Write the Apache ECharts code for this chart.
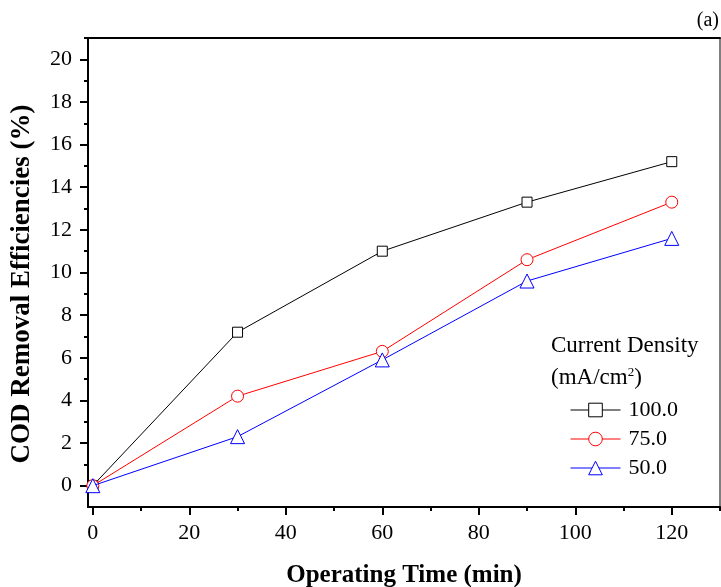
<!DOCTYPE html>
<html>
<head>
<meta charset="utf-8">
<script src="https://cdn.jsdelivr.net/npm/echarts@6/dist/echarts.min.js"></script>
<style>
  html, body { margin: 0; padding: 0; background: #fff; }
  #chart { width: 721px; height: 587px; }
</style>
</head>
<body>
<div id="chart"></div>
<script>
// operating time (min)
var times = [0, 30, 60, 90, 120];
// COD removal efficiency (%) per current density (mA/cm2)
var cod100 = [0, 7.2, 11.0, 13.3, 15.2];
var cod75 = [0, 4.2, 6.3, 10.6, 13.3];
var cod50 = [0, 2.3, 5.9, 9.6, 11.6];
var seriesNames = ['100.0', '75.0', '50.0'];
var xMajor = [0, 20, 40, 60, 80, 100, 120];
var xMinor = [10, 30, 50, 70, 90, 110, 130];
var yMajor = [0, 2, 4, 6, 8, 10, 12, 14, 16, 18, 20];
var yMinor = [1, 3, 5, 7, 9, 11, 13, 15, 17, 19, 21];

var FONT = 'Liberation Serif';

function pairs(ys) {
    return times.map(function (t, i) { return [t, ys[i]]; });
}

var dom = document.getElementById('chart');
var myChart = echarts.init(dom);

var option = {
    backgroundColor: '#fff',
    animation: false,
    textStyle: { fontFamily: FONT, color: '#000' },
    grid: {
        left: 88, top: 38, right: 1, bottom: 80,
        outerBoundsMode: 'none',
        show: true, borderColor: '#000', borderWidth: 1
    },
    title: {
        text: '(a)', right: 2, top: 11, padding: 0,
        textStyle: { fontFamily: FONT, fontSize: 20, fontWeight: 'normal', color: '#000' }
    },
    graphic: [
        {
            type: 'text', left: 551, top: 334,
            style: {
                text: 'Current Density',
                font: '23px "Liberation Serif"', fill: '#000'
            }
        },
        {
            type: 'text', left: 551, top: 366,
            style: {
                text: '(mA/cm{s|2})',
                font: '23px "Liberation Serif"', fill: '#000',
                rich: {
                    s: { fontSize: 13, fontFamily: FONT, verticalAlign: 'top', padding: [0, 0, 10, 0] }
                }
            }
        }
    ],
    legend: {
        orient: 'vertical',
        left: 570, top: 399, padding: 0,
        itemWidth: 50, itemHeight: 17, itemGap: 7,
        data: seriesNames,
        itemStyle: { borderWidth: 1 },
        lineStyle: { width: 1 },
        textStyle: { fontFamily: FONT, fontSize: 22, color: '#000', padding: [0, 0, 0, 3] }
    },
    xAxis: [
        {
            type: 'value', min: -1, max: 130, position: 'bottom',
            name: 'Operating Time (min)', nameLocation: 'middle', nameGap: 56,
            nameTextStyle: { fontFamily: FONT, fontSize: 25, fontWeight: 'bold', color: '#000' },
            axisLine: { show: true, onZero: false, lineStyle: { color: '#000', width: 2 } },
            axisTick: { show: true, length: 8, customValues: xMajor, lineStyle: { color: '#000', width: 2 } },
            axisLabel: { customValues: xMajor, margin: 15, fontFamily: FONT, fontSize: 22, color: '#000' },
            splitLine: { show: false }
        },
        {
            type: 'value', min: -1, max: 130, position: 'bottom',
            axisLine: { show: false, onZero: false },
            axisTick: { show: true, length: 4, customValues: xMinor, lineStyle: { color: '#000', width: 2 } },
            axisLabel: { show: false },
            splitLine: { show: false }
        },
        {
            type: 'value', min: -1, max: 130, position: 'top',
            axisLine: { show: true, onZero: false, lineStyle: { color: '#000', width: 2 } },
            axisTick: { show: false },
            axisLabel: { show: false },
            splitLine: { show: false }
        }
    ],
    yAxis: [
        {
            type: 'value', min: -1, max: 21, position: 'left',
            name: 'COD Removal Efficiencies (%)', nameLocation: 'middle', nameGap: 52,
            nameTextStyle: { fontFamily: FONT, fontSize: 27, fontWeight: 'bold', color: '#000', padding: [0, 23, 0, 0] },
            axisLine: { show: true, onZero: false, lineStyle: { color: '#000', width: 2 } },
            axisTick: { show: true, length: 8, customValues: yMajor, lineStyle: { color: '#000', width: 2 } },
            axisLabel: { customValues: yMajor, margin: 16, fontFamily: FONT, fontSize: 22, color: '#000' },
            splitLine: { show: false }
        },
        {
            type: 'value', min: -1, max: 21, position: 'left',
            axisLine: { show: false, onZero: false },
            axisTick: { show: true, length: 4, customValues: yMinor, lineStyle: { color: '#000', width: 2 } },
            axisLabel: { show: false },
            splitLine: { show: false }
        }
    ],
    series: [
        {
            name: seriesNames[0], type: 'line', data: pairs(cod100),
            symbol: 'rect', symbolSize: 10,
            itemStyle: { color: '#fff', borderColor: '#000', borderWidth: 1 },
            lineStyle: { color: '#000', width: 1 },
            z: 2
        },
        {
            name: seriesNames[1], type: 'line', data: pairs(cod75),
            symbol: 'circle', symbolSize: 12,
            itemStyle: { color: '#fff', borderColor: '#ff0000', borderWidth: 1 },
            lineStyle: { color: '#ff0000', width: 1 },
            z: 3
        },
        {
            name: seriesNames[2], type: 'line', data: pairs(cod50),
            symbol: 'triangle', symbolSize: 14,
            itemStyle: { color: '#fff', borderColor: '#0000ff', borderWidth: 1 },
            lineStyle: { color: '#0000ff', width: 1 },
            z: 4
        }
    ]
};

myChart.setOption(option);
</script>
</body>
</html>
